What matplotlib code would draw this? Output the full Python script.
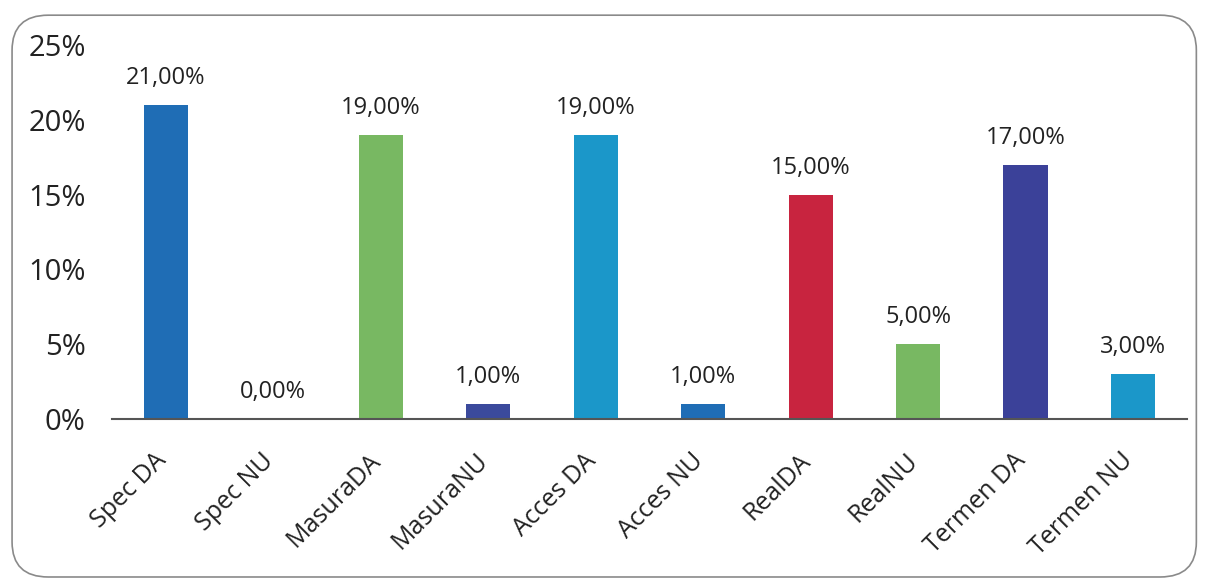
import matplotlib
matplotlib.use('Agg')
import matplotlib.pyplot as plt
from matplotlib.patches import FancyBboxPatch
from matplotlib.ticker import PercentFormatter
from matplotlib.transforms import ScaledTranslation

plt.rcParams['font.family'] = ['Open Sans', 'DejaVu Sans']

categories = ['Spec DA', 'Spec NU', 'MasuraDA', 'MasuraNU', 'Acces DA',
              'Acces NU', 'RealDA', 'RealNU', 'Termen DA', 'Termen NU']
values = [21, 0, 19, 1, 19, 1, 15, 5, 17, 3]
colors = ['#1f6db5', '#1f6db5', '#78b862', '#3b4a9c', '#1b97c9',
          '#1f6db5', '#c8243f', '#78b862', '#3b4199', '#1b97c9']

fig = plt.figure(figsize=(12.06, 5.84), dpi=100)

# rounded frame around the whole chart
frame = FancyBboxPatch((0.010, 0.012), 0.982, 0.962,
                       boxstyle='round,pad=0,rounding_size=0.03',
                       transform=fig.transFigure, facecolor='none',
                       edgecolor='#8a8a8a', linewidth=1.2, mutation_aspect=2.0,
                       zorder=-1)
fig.patches.append(frame)

ax = fig.add_axes([0.093, 0.2825, 0.891, 0.6404])
x = range(len(categories))
bars = ax.bar(x, values, color=colors, width=0.41)

for bar, val in zip(bars, values):
    ax.text(bar.get_x() + bar.get_width() / 2, val + 1.0,
            f'{val:.2f}%'.replace('.', ','), ha='center', va='bottom',
            fontsize=17, color='#222222')

ax.set_xlim(-0.5, len(categories) - 0.5)
ax.set_ylim(0, 25)
ax.set_yticks([0, 5, 10, 15, 20, 25])
ax.yaxis.set_major_formatter(PercentFormatter(decimals=0))
ax.set_xticks(list(x))
ax.set_xticklabels(categories, rotation=45, ha='right', rotation_mode='anchor',
                   fontsize=18, color='#222222')
ax.tick_params(axis='y', length=0, pad=19, labelsize=21, labelcolor='#222222')
ax.tick_params(axis='x', length=0, pad=10)

# nudge rotated labels left/down like the original
shift = ScaledTranslation(-9 / 72, -11 / 72, fig.dpi_scale_trans)
for lbl in ax.get_xticklabels():
    lbl.set_transform(lbl.get_transform() + shift)

for s in ['top', 'right', 'left']:
    ax.spines[s].set_visible(False)
ax.spines['bottom'].set_color('#555555')
ax.spines['bottom'].set_linewidth(1.5)
ax.set_facecolor('none')

fig.savefig('out.png', dpi=100)
